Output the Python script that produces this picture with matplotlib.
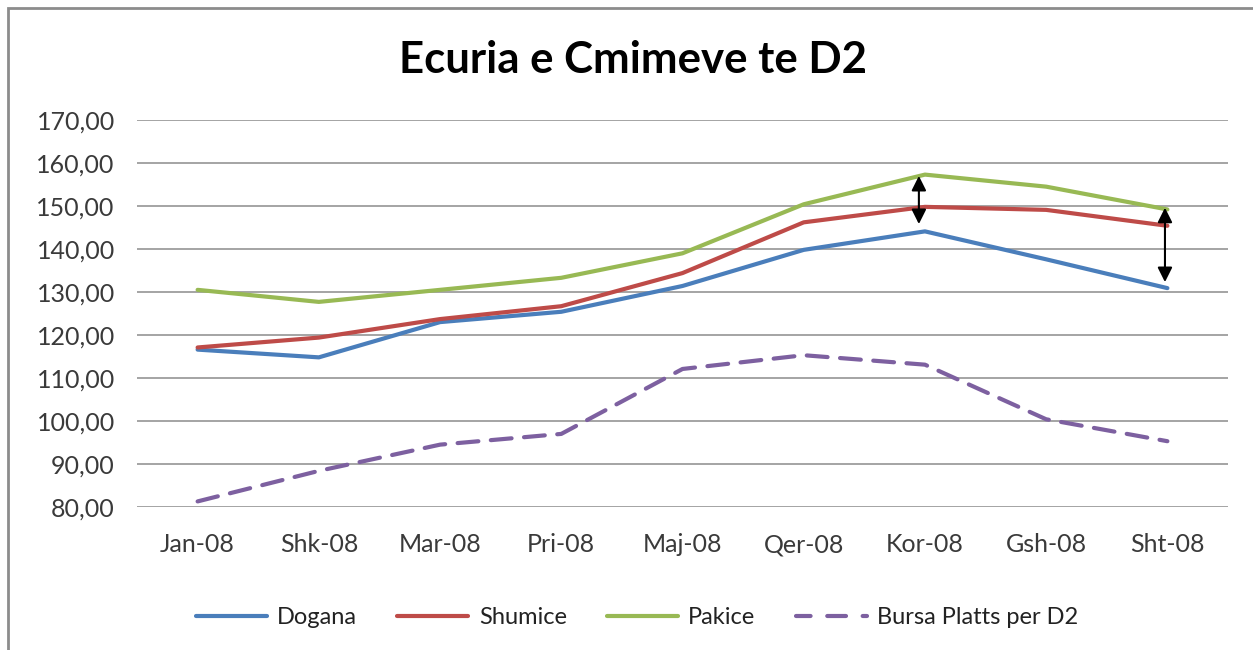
import matplotlib
matplotlib.use("Agg")
import matplotlib.pyplot as plt
from matplotlib.patches import Rectangle

plt.rcParams['font.family'] = ['Lato', 'DejaVu Sans']

months = ["Jan-08", "Shk-08", "Mar-08", "Pri-08", "Maj-08", "Qer-08", "Kor-08", "Gsh-08", "Sht-08"]
dogana = [116.6, 114.8, 123.0, 125.4, 131.4, 139.8, 144.1, 137.6, 130.9]
shumice = [117.1, 119.4, 123.7, 126.7, 134.4, 146.2, 149.8, 149.1, 145.4]
pakice = [130.5, 127.7, 130.5, 133.3, 139.0, 150.4, 157.3, 154.5, 149.2]
bursa = [81.3, 88.4, 94.5, 97.0, 112.1, 115.3, 113.1, 100.4, 95.3]
yticks = [80, 90, 100, 110, 120, 130, 140, 150, 160, 170]
title = "Ecuria e Cmimeve te D2"

fig = plt.figure(figsize=(12.53, 6.5), dpi=100)
ax = fig.add_axes([137/1253, 1-507/650, (1228-137)/1253, (507-120)/650])

x = list(range(len(months)))
ax.plot(x, dogana, color="#4A7EBB", lw=3, label="Dogana", solid_capstyle="round")
ax.plot(x, shumice, color="#BE4B48", lw=3, label="Shumice", solid_capstyle="round")
ax.plot(x, pakice, color="#98B954", lw=3, label="Pakice", solid_capstyle="round")
ax.plot(x, bursa, color="#7D60A0", lw=3, ls=(0, (5, 3)), dash_capstyle="round",
        label="Bursa Platts per D2")

# double-headed arrows
ax.annotate("", xy=(5.95, 157.0), xytext=(5.95, 145.8),
            arrowprops=dict(arrowstyle="<|-|>", color="black", lw=1.5, mutation_scale=22,
                            shrinkA=0, shrinkB=0))
ax.annotate("", xy=(7.98, 149.6), xytext=(7.98, 132.3),
            arrowprops=dict(arrowstyle="<|-|>", color="black", lw=1.5, mutation_scale=22,
                            shrinkA=0, shrinkB=0))

ax.set_xlim(-0.5, len(months) - 0.5)
ax.set_ylim(80, 170)
ax.set_yticks(yticks)
ax.set_yticklabels([f"{v:.2f}".replace(".", ",") for v in yticks])
ax.set_xticks(x)
ax.set_xticklabels(months)
ax.tick_params(axis="both", length=0, labelsize=18, colors="#3A3A3A")
ax.tick_params(axis="y", pad=16)
ax.tick_params(axis="x", pad=19)
ax.grid(axis="y", color="#8C8C8C", lw=1.1)
ax.set_axisbelow(True)
for s in ax.spines.values():
    s.set_visible(False)

fig.text(0.505, 1-60/650, title, ha="center", va="center", fontsize=31.5, fontweight="bold",
         color="black")

leg = fig.legend(loc="center", bbox_to_anchor=(637/1253, 1-618/650), ncol=4, frameon=False,
                 fontsize=17, handlelength=3.0, handletextpad=0.45, columnspacing=1.7,
                 labelcolor="#222222")
leg.get_lines()[3].set_linestyle((1, (4.5, 4)))

fig.patches.append(Rectangle((8/1253, -0.1), 1.2, 1-8/650+0.1, transform=fig.transFigure,
                             fill=False, edgecolor="#8C8C8C", lw=2))

fig.savefig("out.png", dpi=100)
